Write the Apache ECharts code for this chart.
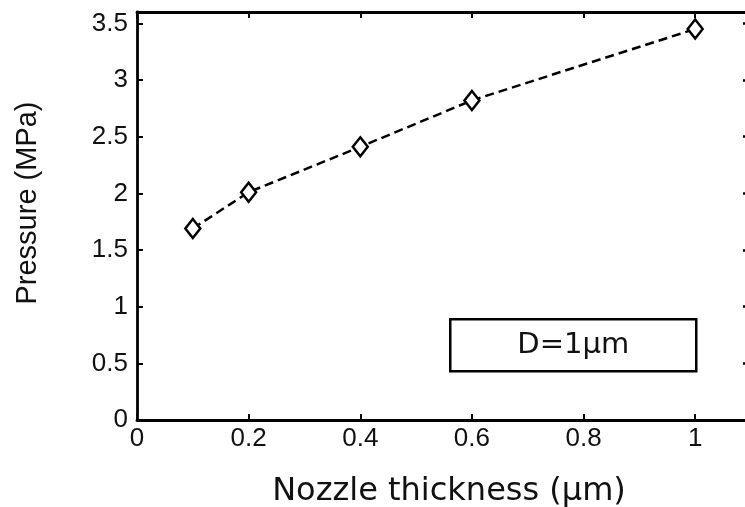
<!DOCTYPE html>
<html>
<head>
<meta charset="utf-8">
<script src="https://cdn.jsdelivr.net/npm/echarts@6/dist/echarts.min.js"></script>
<style>html,body{margin:0;padding:0;background:#fff;}#c{width:745px;height:507px;}</style>
</head>
<body>
<div id="c"></div>
<script>
const thickness = [0.1, 0.2, 0.4, 0.6, 1.0];
const pressure = [1.69, 2.01, 2.41, 2.82, 3.45];
const xTitle = 'Nozzle thickness (μm)';
const yTitle = 'Pressure (MPa)';
const legendText = 'D=1μm';

const chart = echarts.init(document.getElementById('c'), null, {renderer: 'canvas'});
const axisLine = {show: true, onZero: false, lineStyle: {color: '#000', width: 2.8}};
const tick = {show: true, inside: true, length: 6, lineStyle: {color: '#000', width: 2}};
const lblFont = {color: '#111', fontFamily: 'Liberation Sans', fontSize: 26};
chart.setOption({
  backgroundColor: '#ffffff',
  animation: false,
  grid: {left: 137, top: 12, width: 614, height: 408, outerBoundsMode: 'none', containLabel: false},
  xAxis: [{
    type: 'value', min: 0, max: 1.1, interval: 0.2, position: 'bottom',
    axisLine: axisLine, axisTick: tick, splitLine: {show: false},
    axisLabel: Object.assign({margin: 6, showMaxLabel: false, formatter: v => String(+v.toFixed(1))}, lblFont),
    name: xTitle, nameLocation: 'middle', nameGap: 56,
    nameTextStyle: {fontFamily: 'DejaVu Sans', fontSize: 32, color: '#111', padding: [0, 0, 0, 10]}
  }, {
    type: 'value', min: 0, max: 1.1, interval: 0.2, position: 'top',
    axisLine: axisLine, axisTick: tick, axisLabel: {show: false}, splitLine: {show: false}
  }],
  yAxis: [{
    type: 'value', min: 0, max: 3.6, interval: 0.5, position: 'left',
    axisLine: axisLine, axisTick: tick, splitLine: {show: false},
    axisLabel: Object.assign({margin: 9, showMaxLabel: false, formatter: v => String(+v.toFixed(1))}, lblFont)
  }, {
    type: 'value', min: 0, max: 3.6, interval: 0.5, position: 'right',
    axisLine: {show: false, onZero: false},
    axisTick: {show: true, inside: true, length: 8, lineStyle: {color: '#000', width: 2.5}},
    axisLabel: {show: false}, splitLine: {show: false}
  }],
  series: [{
    type: 'line',
    data: thickness.map((t, i) => [t, pressure[i]]),
    xAxisIndex: 0, yAxisIndex: 0,
    lineStyle: {color: '#000', width: 2.5, type: [9, 5]},
    symbol: 'diamond', symbolSize: [15, 19],
    itemStyle: {color: '#fff', borderColor: '#000', borderWidth: 2.5},
    z: 3
  }],
  graphic: [{
    type: 'text', x: 28, y: 203, rotation: Math.PI / 2,
    style: {text: yTitle, fontFamily: 'Liberation Sans', fontSize: 29, fill: '#111', align: 'center', verticalAlign: 'middle'}
  }, {
    type: 'group', left: 449, top: 318,
    children: [{
      type: 'rect', shape: {x: 0, y: 0, width: 246, height: 52},
      style: {fill: '#fff', stroke: '#000', lineWidth: 2.5}
    }, {
      type: 'text', x: 123, y: 26,
      style: {text: legendText, fontFamily: 'DejaVu Sans', fontSize: 29, fill: '#111', align: 'center', verticalAlign: 'middle'}
    }]
  }]
});
</script>
</body>
</html>
